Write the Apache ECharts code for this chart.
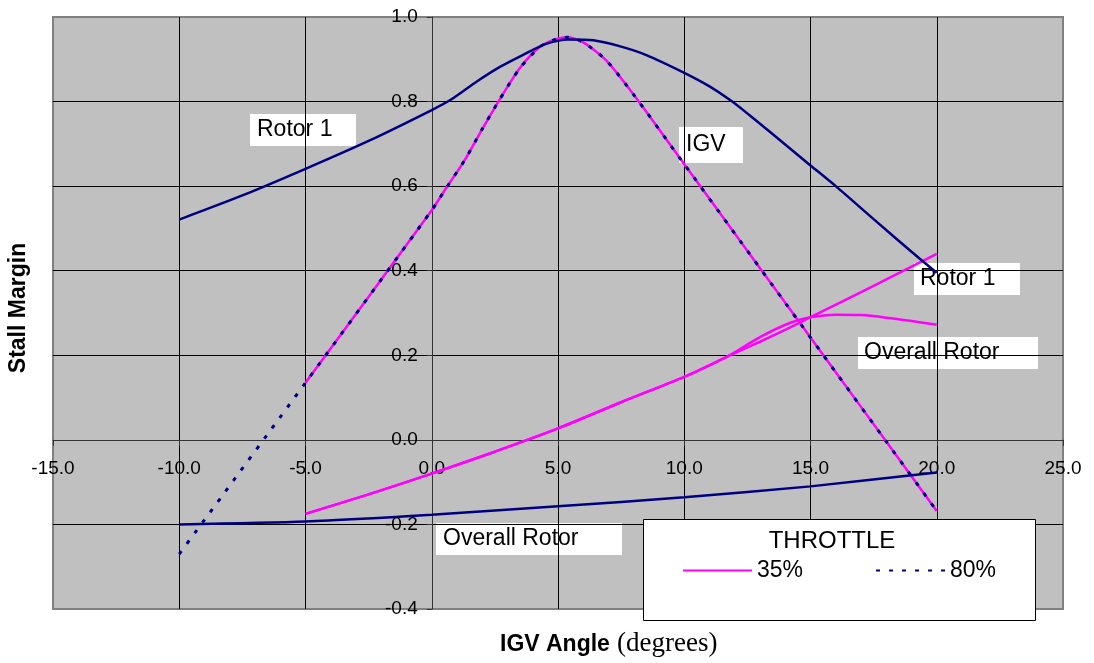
<!DOCTYPE html>
<html>
<head>
<meta charset="utf-8">
<script src="https://cdn.jsdelivr.net/npm/echarts@6/dist/echarts.min.js"></script>
<style>
  html, body { margin: 0; padding: 0; background: #fff; }
  #chart { width: 1094px; height: 663px; }
</style>
</head>
<body>
<div id="chart"></div>
<script>
// Stall margin vs. IGV angle at two throttle settings

// Axis ticks
const xTicks = { min: -15, max: 25, step: 5 };
const yTicks = { min: -0.4, max: 1.0, step: 0.2 };

// IGV stall margin, 80% throttle
const igv80Angle = [-10, -5, 0, 0.6, 1.3, 2.0, 2.7, 3.5, 4.3, 4.9, 5.4, 6.0, 6.9, 8.0, 10, 12, 14, 16, 18, 20];
const igv80Margin = [-0.27, 0.135, 0.543, 0.598, 0.661, 0.735, 0.806, 0.880, 0.930, 0.947, 0.952, 0.940, 0.898, 0.816, 0.652, 0.488, 0.324, 0.160, -0.004, -0.168];

// IGV stall margin, 35% throttle
const igv35Angle = [-5, 0, 0.6, 1.3, 2.0, 2.7, 3.5, 4.3, 4.9, 5.4, 6.0, 6.9, 8.0, 10, 12, 14, 16, 18, 20];
const igv35Margin = [0.135, 0.543, 0.598, 0.661, 0.735, 0.806, 0.880, 0.930, 0.947, 0.952, 0.940, 0.898, 0.816, 0.652, 0.488, 0.324, 0.160, -0.004, -0.168];

// Rotor 1 stall margin, 80% throttle
const rotor80Angle = [-10, -7.5, -5, -2.5, 0, 0.8, 1.8, 2.7, 3.6, 4.5, 5.4, 6.4, 7.5, 8.5, 10, 11, 11.9, 12.6, 13.4, 15, 16, 17.5, 19, 20];
const rotor80Margin = [0.521, 0.578, 0.641, 0.707, 0.780, 0.806, 0.848, 0.882, 0.910, 0.936, 0.947, 0.945, 0.930, 0.910, 0.868, 0.836, 0.800, 0.767, 0.728, 0.649, 0.600, 0.522, 0.445, 0.395];

// Rotor 1 stall margin, 35% throttle
const rotor35Angle = [-5, -2.5, 0, 2.5, 5, 7.5, 10, 11.7, 13, 14.2, 15, 17.5, 20];
const rotor35Margin = [-0.175, -0.129, -0.080, -0.028, 0.027, 0.089, 0.149, 0.197, 0.232, 0.266, 0.290, 0.364, 0.440];

// Overall rotor stall margin, 80% throttle
const overall80Angle = [-10, -5, 0, 5, 10, 15, 20];
const overall80Margin = [-0.200, -0.193, -0.177, -0.157, -0.136, -0.110, -0.077];

// Overall rotor stall margin, 35% throttle
const overall35Angle = [-5, -2.5, 0, 2.5, 5, 7.5, 10, 11.7, 13, 14.2, 15, 16, 17, 18, 19, 20];
const overall35Margin = [-0.175, -0.129, -0.080, -0.028, 0.027, 0.089, 0.149, 0.197, 0.243, 0.277, 0.290, 0.296, 0.295, 0.289, 0.281, 0.272];

const throttleNames = ['35%', '80%'];
const MAGENTA = '#ff00ff';
const NAVY = '#000080';
const FONT = '"Liberation Sans", Arial, sans-serif';
const GRID = { left: 53, right: 31, top: 17, bottom: 54 };
const HEIGHT = 663;

function pairs(xs, ys) {
  return xs.map((x, i) => [x, ys[i]]);
}

function lineSeries(name, xs, ys, color, width, dash) {
  return {
    type: 'line',
    name: name,
    data: pairs(xs, ys),
    symbol: 'none',
    smooth: 0.25,
    silent: true,
    lineStyle: { color: color, width: width, type: dash || 'solid' },
    itemStyle: { color: color },
    emphasis: { disabled: true }
  };
}

function boxedLabel(x, y, w, h, text, tx) {
  return {
    type: 'group',
    z: 50,
    children: [
      { type: 'rect', shape: { x: x, y: y, width: w, height: h }, style: { fill: '#fff' } },
      {
        type: 'text', x: tx, y: y + h / 2,
        style: { text: text, font: '23px ' + FONT, fill: '#000', textVerticalAlign: 'middle', textAlign: 'left' }
      }
    ]
  };
}

const chart = echarts.init(document.getElementById('chart'), null, { renderer: 'canvas' });

chart.setOption({
  animation: false,
  backgroundColor: '#ffffff',
  grid: {
    left: GRID.left, right: GRID.right, top: GRID.top, bottom: GRID.bottom,
    show: true,
    backgroundColor: '#c0c0c0',
    borderColor: '#808080',
    borderWidth: 2,
    outerBoundsMode: 'none'
  },
  xAxis: {
    type: 'value',
    min: xTicks.min, max: xTicks.max, interval: xTicks.step,
    position: 'bottom',
    axisLine: { show: true, onZero: false, lineStyle: { color: '#333', width: 1 } },
    axisTick: { show: true, length: 6, lineStyle: { color: '#333' } },
    axisLabel: {
      color: '#000', fontSize: 19, fontFamily: FONT, margin: 19,
      formatter: v => v.toFixed(1)
    },
    splitLine: { show: true, showMinLine: false, showMaxLine: false, lineStyle: { color: '#000', width: 1 } }
  },
  yAxis: {
    type: 'value',
    min: yTicks.min, max: yTicks.max, interval: yTicks.step,
    position: 'left',
    axisLine: { show: true, onZero: false, lineStyle: { color: '#333', width: 1 } },
    axisTick: { show: true, length: 5, lineStyle: { color: '#333' } },
    axisLabel: {
      color: '#000', fontSize: 19, fontFamily: FONT, margin: 14,
      formatter: v => v.toFixed(1)
    },
    splitLine: { show: true, showMinLine: false, showMaxLine: false, lineStyle: { color: '#000', width: 1 } }
  },
  legend: {
    data: throttleNames,
    left: 682, top: 559,
    orient: 'horizontal',
    itemWidth: 69, itemHeight: 14, itemGap: 72,
    padding: 0,
    selectedMode: false,
    z: 60,
    textStyle: { color: '#000', fontSize: 23, fontFamily: FONT },
    itemStyle: { opacity: 0 }
  },
  series: [
    lineSeries(throttleNames[0], rotor35Angle, rotor35Margin, MAGENTA, 2.5),
    lineSeries(throttleNames[0], overall35Angle, overall35Margin, MAGENTA, 2.5),
    lineSeries(throttleNames[0], igv35Angle, igv35Margin, MAGENTA, 2.5),
    lineSeries(throttleNames[1], igv80Angle, igv80Margin, NAVY, 3, [4, 9]),
    lineSeries(throttleNames[1], rotor80Angle, rotor80Margin, NAVY, 2.5),
    lineSeries(throttleNames[1], overall80Angle, overall80Margin, NAVY, 2.5)
  ],
  graphic: [
    boxedLabel(250, 114, 106, 32, 'Rotor 1', 257),
    boxedLabel(679, 127, 64, 36, 'IGV', 686),
    boxedLabel(914, 263, 106, 32, 'Rotor 1', 920),
    boxedLabel(858, 337, 180, 32, 'Overall Rotor', 864),
    boxedLabel(436, 523, 186, 32, 'Overall Rotor', 443),
    {
      type: 'rect', z: 55,
      shape: { x: 643.5, y: 519.5, width: 392, height: 101 },
      style: { fill: '#fff', stroke: '#000', lineWidth: 1 }
    },
    {
      type: 'text', z: 56, x: 832, y: 541,
      style: { text: 'THROTTLE', font: '24px ' + FONT, fill: '#000', textAlign: 'center', textVerticalAlign: 'middle' }
    },
    {
      type: 'text', z: 56, x: 19, y: 308, rotation: Math.PI / 2,
      style: { text: 'Stall Margin', font: 'bold 23px ' + FONT, fill: '#000', textAlign: 'center', textVerticalAlign: 'middle' }
    },
    {
      type: 'text', z: 56, x: 500, y: 645,
      style: { text: 'IGV Angle', font: 'bold 23px ' + FONT, fill: '#000', textAlign: 'left', textVerticalAlign: 'middle' }
    },
    {
      type: 'text', z: 56, x: 617, y: 644,
      style: { text: '(degrees)', font: '27px "Liberation Serif", "Times New Roman", serif', fill: '#000', textAlign: 'left', textVerticalAlign: 'middle' }
    }
  ]
});

// Place both axis lines where the other axis crosses zero.
const zeroY = chart.convertToPixel({ yAxisIndex: 0 }, 0);
const zeroX = chart.convertToPixel({ xAxisIndex: 0 }, 0);
chart.setOption({
  xAxis: { offset: zeroY - (HEIGHT - GRID.bottom) },
  yAxis: { offset: GRID.left - zeroX }
});
</script>
</body>
</html>
